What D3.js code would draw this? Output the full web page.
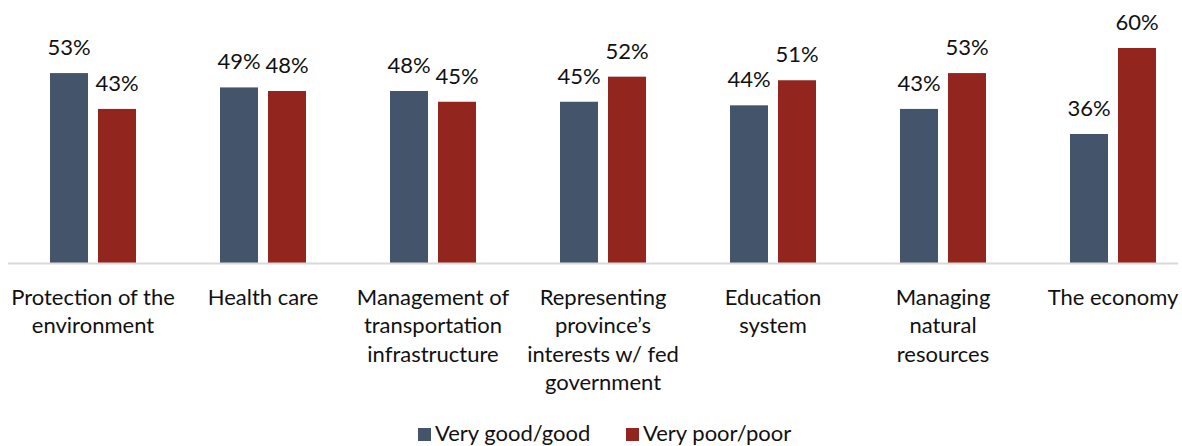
<!DOCTYPE html>
<html>
<head>
<meta charset="utf-8">
<script src="https://cdn.jsdelivr.net/npm/d3@7"></script>
<style>
  body { margin: 0; background: #fff; }
  svg { display: block; }
  text { font-family: Lato, "Open Sans", sans-serif; fill: #111; }
</style>
</head>
<body>
<div id="chart"></div>
<script>
// categories, wrapped the way the picture wraps them
var categories = [
  "Protection of the environment",
  "Health care",
  "Management of transportation infrastructure",
  "Representing province’s interests w/ fed government",
  "Education system",
  "Managing natural resources",
  "The economy"
];
var category_lines = [
  ["Protection of the", "environment"],
  ["Health care"],
  ["Management of", "transportation", "infrastructure"],
  ["Representing", "province’s", "interests w/ fed", "government"],
  ["Education", "system"],
  ["Managing", "natural", "resources"],
  ["The economy"]
];

var series = ["Very good/good", "Very poor/poor"];
var good = [53, 49, 48, 45, 44, 43, 36];
var poor = [43, 48, 45, 52, 51, 53, 60];

var series_colors = ["#44546A", "#92261F"];

var width = 1182, height = 446;
var font_size = 22;

var svg = d3.select("#chart").append("svg")
  .attr("width", width)
  .attr("height", height);

// outer scale for the groups, inner one for the two bars
var x0 = d3.scaleBand()
  .domain(categories)
  .range([8, 1198]);

var x1 = d3.scaleBand()
  .domain(series)
  .range([42, 128])
  .paddingInner(0.2083);

var y = d3.scaleLinear()
  .domain([0, 60])
  .range([263, 48]);

var color = d3.scaleOrdinal().domain(series).range(series_colors);

var rows = categories.map(function(c, i){
  return { cat: c, values: [
    { key: series[0], value: good[i] },
    { key: series[1], value: poor[i] }
  ]};
});

var groups = svg.selectAll("g.group")
  .data(rows)
  .enter()
  .append("g")
  .attr("class", "group")
  .attr("transform", d => "translate(" + x0(d.cat) + ",0)");

groups.selectAll("rect")
  .data(d => d.values)
  .enter()
  .append("rect")
  .attr("x", d => x1(d.key))
  .attr("y", d => y(d.value))
  .attr("width", x1.bandwidth())
  .attr("height", d => y(0) - y(d.value))
  .style("fill", d => color(d.key));

groups.selectAll("text.val")
  .data(d => d.values)
  .enter()
  .append("text")
  .attr("class", "val")
  .attr("x", d => x1(d.key) + x1.bandwidth() / 2)
  .attr("y", d => y(d.value) - 18)
  .attr("text-anchor", "middle")
  .style("font-size", font_size + "px")
  .text(d => d.value + "%");

// baseline
svg.append("line")
  .attr("x1", 8)
  .attr("x2", 1178)
  .attr("y1", y(0) + 0.5)
  .attr("y2", y(0) + 0.5)
  .style("stroke", "#D9D9D9")
  .style("stroke-width", 2);

// category labels
svg.selectAll("text.cat")
  .data(categories)
  .enter()
  .append("text")
  .attr("class", "cat")
  .attr("text-anchor", "middle")
  .attr("x", d => x0(d) + x0.bandwidth() / 2)
  .attr("y", 305)
  .style("font-size", font_size + "px")
  .each(function(d, i){
    var t = d3.select(this);
    category_lines[i].forEach(function(line, j){
      t.append("tspan")
        .attr("x", x0(d) + x0.bandwidth() / 2)
        .attr("y", 305 + j * 28.4)
        .text(line);
    });
  });

// legend
var legend_x = [418, 626];
var legend = svg.selectAll("g.legend")
  .data(series)
  .enter()
  .append("g")
  .attr("class", "legend")
  .attr("transform", (d, i) => "translate(" + legend_x[i] + ",0)");

legend.append("rect")
  .attr("x", 0)
  .attr("y", 428)
  .attr("width", 13)
  .attr("height", 13)
  .style("fill", d => color(d));

legend.append("text")
  .attr("x", 17)
  .attr("y", 441)
  .style("font-size", font_size + "px")
  .text(d => d);
</script>
</body>
</html>
